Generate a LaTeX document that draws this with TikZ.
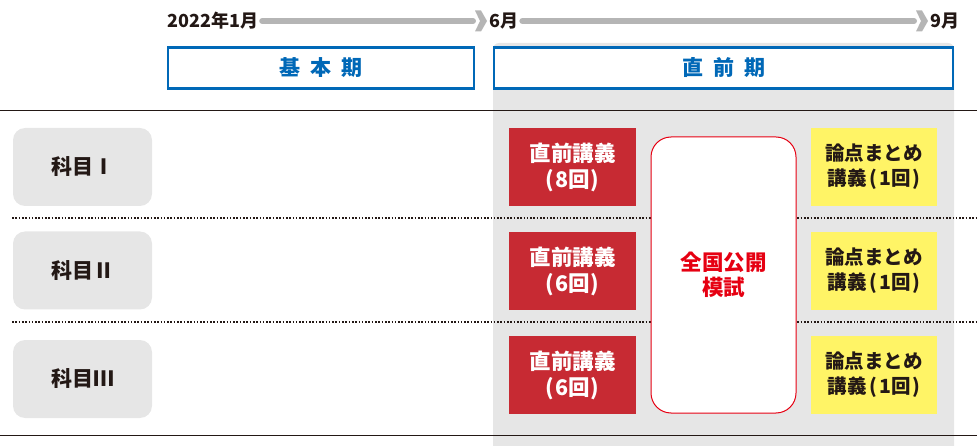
\documentclass[tikz,border=0pt]{standalone}
\usepackage{fontspec}
\setmainfont{Noto Sans CJK JP}
\usetikzlibrary{calc}
\definecolor{arrowgray}{HTML}{B5B5B5}
\definecolor{hdblue}{HTML}{0068B7}
\definecolor{bggray}{HTML}{E6E6E6}
\definecolor{lecred}{HTML}{C72A33}
\definecolor{sumyellow}{HTML}{FFF466}
\definecolor{mockred}{HTML}{E60012}
\definecolor{ink}{HTML}{231815}
\tikzset{
  datelabel/.style={inner sep=0pt, font=\fontsize{18}{20}\selectfont\bfseries, text=ink},
  timeline/.style={draw=arrowgray, line width=6pt, line cap=round},
  chevron/.style={fill=arrowgray},
  header/.style={draw=hdblue, line width=2.5pt, fill=white, text=hdblue,
    font=\fontsize{21}{24}\selectfont\bfseries, minimum height=41pt, inner sep=0pt},
  subject/.style={fill=bggray, rounded corners=12pt, minimum width=139pt, minimum height=78pt,
    font=\fontsize{21}{24}\selectfont\bfseries, text=ink, inner sep=0pt},
  lecture/.style={fill=lecred, minimum width=127pt, minimum height=78pt, text=white,
    font=\fontsize{21.5}{26}\selectfont\bfseries, align=center, inner sep=0pt},
  summary/.style={fill=sumyellow, minimum width=126pt, minimum height=78pt, text=ink,
    font=\fontsize{19.5}{25}\selectfont\bfseries, align=center, inner sep=0pt},
  mock/.style={draw=mockred, line width=1pt, fill=white, rounded corners=20pt,
    minimum width=145pt, minimum height=276pt, text=mockred,
    font=\fontsize{21.5}{25}\selectfont\bfseries, align=center, inner sep=0pt},
  rowline/.style={draw=ink, line width=1pt},
  rowdots/.style={draw=ink, line width=1.6pt, dash pattern=on 1.6pt off 1.7pt},
}
\newcommand{\cnt}[1]{(\kern1pt#1回\kern1pt)}
\newcommand{\sumtxt}{論点まとめ\\講義\kern3pt(\kern2pt1回\kern2pt)}
\begin{document}
\begin{tikzpicture}[x=1pt, y=-1pt]
\useasboundingbox (0,0) rectangle (977,446);
% gray background of the final period
\fill[bggray] (493,446) [rounded corners=6pt] -- (493,43) -- (954,43) [sharp corners] -- (954,446) -- cycle;
% horizontal rules
\coordinate (topL) at (0,111);
\coordinate (topR) at (977,111);
\coordinate (botL) at (0,435);
\coordinate (botR) at (977,435);
\draw[rowline] (topL) -- (topR);
\draw[rowline] (botL) -- (botR);
\coordinate (d1L) at (12,218);
\coordinate (d1R) at (977,218);
\coordinate (d2L) at (12,322);
\coordinate (d2R) at (977,322);
\draw[rowdots] (d1L) -- (d1R);
\draw[rowdots] (d2L) -- (d2R);
% timeline
\node[datelabel, anchor=west] (t0) at (167,21) {2022年1月};
\node[datelabel, anchor=west] (t1) at (489,21) {6月};
\node[datelabel, anchor=west] (t2) at (930,21) {9月};
\draw[timeline] ($(t0.east)+(4,0)$) -- ($(t1.west)+(-16,0)$);
\fill[chevron] ($(t1.west)+(-14,-10.5)$) -- ++(6,0) -- ++(6,10.5) -- ++(-6,10.5) -- ++(-6,0) -- ++(5,-10.5) -- cycle;
\draw[timeline] ($(t1.east)+(4,0)$) -- ($(t2.west)+(-16,0)$);
\fill[chevron] ($(t2.west)+(-14,-10.5)$) -- ++(6,0) -- ++(6,10.5) -- ++(-6,10.5) -- ++(-6,0) -- ++(5,-10.5) -- cycle;
% period headers
\node[header, minimum width=306pt] (basic) at (321,68) {基\hspace{10pt}本\hspace{10pt}期};
\node[header, minimum width=459pt] (final) at (723.5,68) {直\hspace{10pt}前\hspace{10pt}期};
% subjects
\node[subject] (s1) at (82.5,167) {科目Ⅰ};
\node[subject] (s2) at (82.5,270.5) {科目Ⅱ};
\node[subject] (s3) at (82.5,379) {科目Ⅲ};
% lectures
\node[lecture] (l1) at (572.5,167) {直前講義\\\cnt{8}};
\node[lecture] (l2) at (572.5,271) {直前講義\\\cnt{6}};
\node[lecture] (l3) at (572.5,375) {直前講義\\\cnt{6}};
% mock exam
\node[mock] (m) at (723.5,275) {全国公開\\模試};
% summary lectures
\node[summary] (y1) at (874,167) {\sumtxt};
\node[summary] (y2) at (874,271) {\sumtxt};
\node[summary] (y3) at (874,375) {\sumtxt};
\end{tikzpicture}
\end{document}
